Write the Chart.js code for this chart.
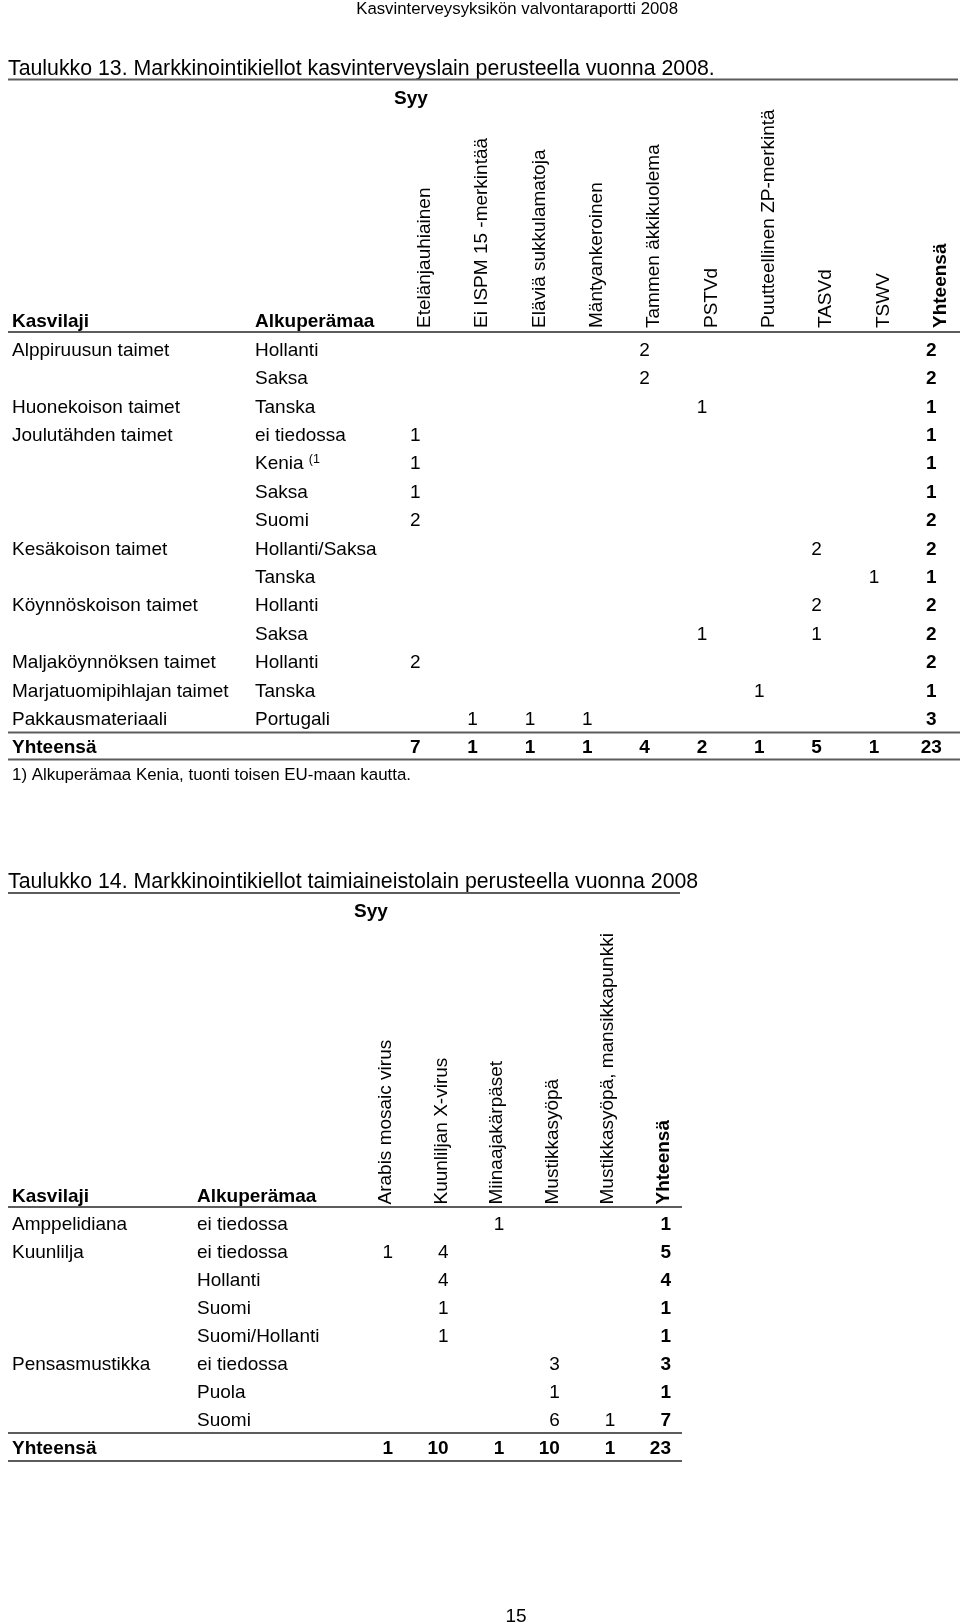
<!DOCTYPE html>
<html lang="fi">
<head>
<meta charset="utf-8">
<title>Markkinointikiellot 2008</title>
<script src="https://cdn.jsdelivr.net/npm/chart.js@4.4.1/dist/chart.umd.min.js"></script>
<style>
  html, body { margin: 0; padding: 0; background: #fff; }
  .page { position: relative; width: 960px; height: 1623px; overflow: hidden; }
  .page canvas { position: absolute; left: 0; top: 0; }
</style>
</head>
<body>
<div class="page">
  <canvas id="table13" width="960" height="1623"></canvas>
  <canvas id="table14" width="960" height="1623"></canvas>
</div>
<script>
const _ = null;
const FONT = '"Liberation Sans", Arial, Helvetica, sans-serif';
const RULE_COLOR = '#5c5c5c';

const pageHeader = 'Kasvinterveysyksikön valvontaraportti 2008';
const pageNumber = '15';

// Taulukko 13
const title13 = 'Taulukko 13. Markkinointikiellot kasvinterveyslain perusteella vuonna 2008.';
const reasons13 = ['Etelänjauhiainen', 'Ei ISPM 15 -merkintää', 'Eläviä sukkulamatoja', 'Mäntyankeroinen',
  'Tammen äkkikuolema', 'PSTVd', 'Puutteellinen ZP-merkintä', 'TASVd', 'TSWV', 'Yhteensä'];
const plants13 = ['Alppiruusun taimet', '', 'Huonekoison taimet', 'Joulutähden taimet', '', '', '',
  'Kesäkoison taimet', '', 'Köynnöskoison taimet', '', 'Maljaköynnöksen taimet',
  'Marjatuomipihlajan taimet', 'Pakkausmateriaali'];
const origins13 = ['Hollanti', 'Saksa', 'Tanska', 'ei tiedossa', 'Kenia', 'Saksa', 'Suomi',
  'Hollanti/Saksa', 'Tanska', 'Hollanti', 'Saksa', 'Hollanti', 'Tanska', 'Portugali'];
const notes13 = ['', '', '', '', '(1', '', '', '', '', '', '', '', '', ''];
const counts13 = [
  [_, _, _, _, 2, _, _, _, _, 2],
  [_, _, _, _, 2, _, _, _, _, 2],
  [_, _, _, _, _, 1, _, _, _, 1],
  [1, _, _, _, _, _, _, _, _, 1],
  [1, _, _, _, _, _, _, _, _, 1],
  [1, _, _, _, _, _, _, _, _, 1],
  [2, _, _, _, _, _, _, _, _, 2],
  [_, _, _, _, _, _, _, 2, _, 2],
  [_, _, _, _, _, _, _, _, 1, 1],
  [_, _, _, _, _, _, _, 2, _, 2],
  [_, _, _, _, _, 1, _, 1, _, 2],
  [2, _, _, _, _, _, _, _, _, 2],
  [_, _, _, _, _, _, 1, _, _, 1],
  [_, 1, 1, 1, _, _, _, _, _, 3]
];
const totals13 = [7, 1, 1, 1, 4, 2, 1, 5, 1, 23];
const footnote13 = '1) Alkuperämaa Kenia, tuonti toisen EU-maan kautta.';

// Taulukko 14
const title14 = 'Taulukko 14. Markkinointikiellot taimiaineistolain perusteella vuonna 2008';
const reasons14 = ['Arabis mosaic virus', 'Kuunliljan X-virus', 'Miinaajakärpäset', 'Mustikkasyöpä',
  'Mustikkasyöpä, mansikkapunkki', 'Yhteensä'];
const plants14 = ['Amppelidiana', 'Kuunlilja', '', '', '', 'Pensasmustikka', '', ''];
const origins14 = ['ei tiedossa', 'ei tiedossa', 'Hollanti', 'Suomi', 'Suomi/Hollanti',
  'ei tiedossa', 'Puola', 'Suomi'];
const counts14 = [
  [_, _, 1, _, _, 1],
  [1, 4, _, _, _, 5],
  [_, 4, _, _, _, 4],
  [_, 1, _, _, _, 1],
  [_, 1, _, _, _, 1],
  [_, _, _, 3, _, 3],
  [_, _, _, 1, _, 1],
  [_, _, _, 6, 1, 7]
];
const totals14 = [1, 10, 1, 10, 1, 23];

function font(size, bold) {
  return `${bold ? 'bold ' : ''}${size}px ${FONT}`;
}

// one point per filled cell, x = reason label, y = row index
function cellPoints(reasons, rows, firstRow) {
  const pts = [];
  rows.forEach((row, r) => row.forEach((v, c) => {
    if (v !== null) pts.push({ x: reasons[c], y: firstRow + r, v });
  }));
  return pts;
}

function tablePlugin(o) {
  return {
    id: 'tableText',
    afterDraw(chart) {
      const { ctx, chartArea: area } = chart;
      const xs = chart.scales.x;
      const ys = chart.scales.y;
      const labels = xs.getLabels();
      const totalCol = labels[labels.length - 1];
      const n = o.origins.length;
      const base = (r) => ys.getPixelForValue(r) + o.baseline;

      ctx.save();
      ctx.fillStyle = '#000';
      ctx.textBaseline = 'alphabetic';

      o.texts.forEach((t) => {
        ctx.font = font(t.size, t.bold);
        ctx.textAlign = t.align || 'left';
        ctx.fillText(t.text, t.x, t.y);
      });

      // Kasvilaji / Alkuperämaa
      ctx.textAlign = 'left';
      for (let r = 0; r < n; r++) {
        ctx.font = font(o.size);
        if (o.plants[r]) ctx.fillText(o.plants[r], o.plantX, base(r));
        ctx.fillText(o.origins[r], o.originX, base(r));
        if (o.notes && o.notes[r]) {
          const w = ctx.measureText(o.origins[r] + ' ').width;
          ctx.font = font(12.5);
          ctx.fillText(o.notes[r], o.originX + w, base(r) - 6.5);
        }
      }
      ctx.font = font(o.size, true);
      ctx.fillText('Yhteensä', o.plantX, base(n));

      // counts
      ctx.textAlign = o.numberAlign;
      chart.data.datasets.forEach((ds, i) => {
        chart.getDatasetMeta(i).data.forEach((pt, j) => {
          const cell = ds.data[j];
          ctx.font = font(o.size, ds.isTotal || cell.x === totalCol);
          ctx.fillText(String(cell.v), pt.x + o.numberShift, pt.y + o.baseline);
        });
      });

      // rules
      ctx.strokeStyle = RULE_COLOR;
      ctx.lineWidth = 2;
      const rule = (x1, x2, y) => {
        ctx.beginPath();
        ctx.moveTo(x1, y);
        ctx.lineTo(x2, y);
        ctx.stroke();
      };
      o.rules.forEach((l) => rule(l.x1, l.x2, l.y));
      rule(o.ruleLeft, o.ruleRight, area.top);
      rule(o.ruleLeft, o.ruleRight, ys.getPixelForValue(n - 0.5));
      rule(o.ruleLeft, o.ruleRight, area.bottom);
      ctx.restore();
    }
  };
}

function tableChart(id, cfg) {
  const last = cfg.reasons.length - 1;
  return new Chart(document.getElementById(id), {
    type: 'scatter',
    data: {
      datasets: [
        { data: cellPoints(cfg.reasons, cfg.counts, 0), pointRadius: 0 },
        { data: cellPoints(cfg.reasons, [cfg.totals], cfg.counts.length), pointRadius: 0, isTotal: true }
      ]
    },
    options: {
      responsive: false,
      animation: false,
      events: [],
      layout: { padding: cfg.padding },
      plugins: { legend: { display: false }, tooltip: { enabled: false } },
      scales: {
        x: {
          type: 'category',
          labels: cfg.reasons,
          position: 'top',
          offset: true,
          grid: { display: false, drawTicks: false },
          border: { display: false },
          ticks: {
            autoSkip: false,
            minRotation: 90,
            maxRotation: 90,
            padding: cfg.headPadding,
            labelOffset: cfg.headOffset,
            color: '#000',
            font: (c) => ({ family: FONT, size: 19, lineHeight: 1, weight: c.index === last ? 'bold' : 'normal' })
          },
          afterFit: (s) => {
            s.height = cfg.headHeight;
            s.paddingLeft = 0;
            s.paddingRight = 0;
          }
        },
        y: { type: 'linear', reverse: true, min: cfg.yMin, max: cfg.yMax, display: false }
      }
    },
    plugins: [tablePlugin(cfg.text)]
  });
}

tableChart('table13', {
  reasons: reasons13,
  counts: counts13,
  totals: totals13,
  padding: { top: 32, left: 386.6, right: 0, bottom: 863.6 },
  headHeight: 300,
  headPadding: 4,
  headOffset: 28.5,
  yMin: -0.6,
  yMax: 14.45,
  text: {
    plants: plants13,
    origins: origins13,
    notes: notes13,
    plantX: 12,
    originX: 255,
    size: 19,
    baseline: 6.8,
    numberAlign: 'center',
    numberShift: 0,
    ruleLeft: 8,
    ruleRight: 960,
    rules: [{ x1: 8, x2: 958, y: 79.5 }],
    texts: [
      { text: pageHeader, x: 678, y: 14, size: 16.8, align: 'right' },
      { text: title13, x: 8, y: 75, size: 21.3 },
      { text: 'Syy', x: 411, y: 104, size: 19, bold: true, align: 'center' },
      { text: 'Kasvilaji', x: 12, y: 327, size: 19, bold: true },
      { text: 'Alkuperämaa', x: 255, y: 327, size: 19, bold: true },
      { text: footnote13, x: 12, y: 780, size: 16.9 }
    ]
  }
});

tableChart('table14', {
  reasons: reasons14,
  counts: counts14,
  totals: totals14,
  padding: { top: 807, left: 360.2, right: 266.2, bottom: 162 },
  headHeight: 400,
  headPadding: 2.5,
  headOffset: 16.7,
  yMin: -0.57,
  yMax: 8.5,
  text: {
    plants: plants14,
    origins: origins14,
    plantX: 12,
    originX: 197,
    size: 19,
    baseline: 6.8,
    numberAlign: 'right',
    numberShift: 5,
    ruleLeft: 8,
    ruleRight: 682,
    rules: [{ x1: 8, x2: 680, y: 893 }],
    texts: [
      { text: title14, x: 8, y: 888, size: 21.3 },
      { text: 'Syy', x: 371, y: 917, size: 19, bold: true, align: 'center' },
      { text: 'Kasvilaji', x: 12, y: 1202, size: 19, bold: true },
      { text: 'Alkuperämaa', x: 197, y: 1202, size: 19, bold: true },
      { text: pageNumber, x: 516, y: 1622, size: 19, align: 'center' }
    ]
  }
});
</script>
</body>
</html>
